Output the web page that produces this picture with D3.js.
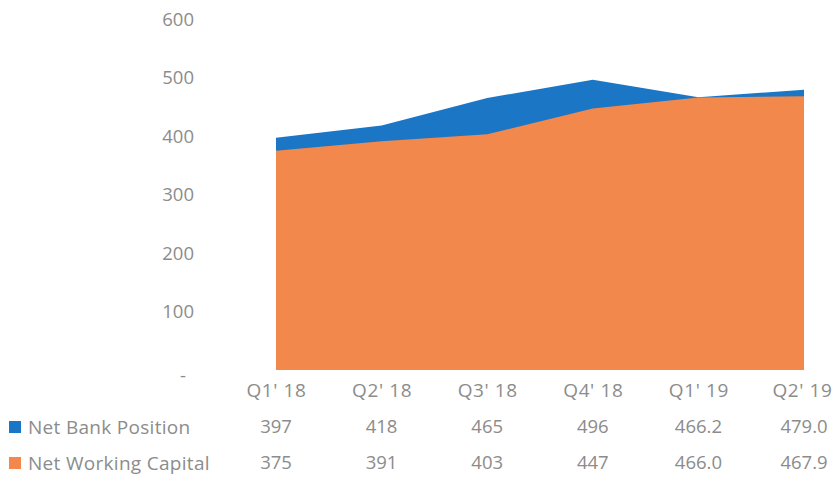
<!DOCTYPE html>
<html><head><meta charset="utf-8">
<script src="https://cdn.jsdelivr.net/npm/d3@7"></script>
<style>body{margin:0;background:#fff}svg{display:block}text{font-family:"Open Sans",sans-serif;fill:#8c8c8c}</style>
</head><body><svg id="c" width="837" height="480"></svg>
<script>
const categories = ["Q1' 18","Q2' 18","Q3' 18","Q4' 18","Q1' 19","Q2' 19"];
const netBank = [397,418,465,496,466.2,479.0];
const netBankLabels = ["397","418","465","496","466.2","479.0"];
const netWC = [375,391,403,447,466.0,467.9];
const netWCLabels = ["375","391","403","447","466.0","467.9"];
const yTicks = [0,100,200,300,400,500,600];
const seriesNames = ["Net Bank Position","Net Working Capital"];
const colors = ["#1c76c6","#f2884b"];

const svg = d3.select("#c");
const x = d3.scalePoint().domain(categories).range([276,804]);
const y = d3.scaleLinear().domain([0,600]).range([370,19]);

const area = vals => d3.area().x((d,i)=>x(categories[i])).y0(y(0)).y1(d=>y(d))(vals);
svg.append("path").attr("d",area(netBank)).attr("fill",colors[0]);
svg.append("path").attr("d",area(netWC)).attr("fill",colors[1]);

const yAxis = d3.axisLeft(y).tickValues(yTicks).tickSize(0).tickPadding(0)
  .tickFormat(d=>d===0?"-":d);
const ga = svg.append("g").attr("transform","translate(194,0)").call(yAxis);
ga.select(".domain").remove();
ga.selectAll("text").attr("font-size",18.5).attr("fill","#8c8c8c").attr("font-family","Open Sans").attr("dy","0.35em");
ga.selectAll(".tick").filter(d=>d===0).select("text").attr("dx",-8).attr("dy","0.6em");

const xAxis = d3.axisBottom(x).tickSize(0).tickPadding(0);
const gx = svg.append("g").attr("transform","translate(0,390)").call(xAxis);
gx.select(".domain").remove();
gx.selectAll("text").attr("font-size",19).attr("fill","#8c8c8c").attr("font-family","Open Sans").attr("dy","0.35em").attr("letter-spacing",0.6);
gx.selectAll(".tick").filter(d=>d==="Q2' 19").select("text").attr("dx",-2);

const rows = [{vals:netBankLabels,yy:427},{vals:netWCLabels,yy:463}];
rows.forEach((r,ri)=>{
  svg.append("rect").attr("x",9).attr("y",r.yy-6).attr("width",12).attr("height",12).attr("fill",colors[ri]);
  svg.append("text").attr("x",28).attr("y",r.yy).attr("dy","0.35em").attr("font-size",19).attr("letter-spacing",0.3).text(seriesNames[ri]);
  svg.selectAll(null).data(r.vals).enter().append("text")
    .attr("x",(d,i)=>x(categories[i])).attr("y",r.yy).attr("dy","0.35em")
    .attr("text-anchor","middle").attr("font-size",18.5).text(d=>d);
});
</script></body></html>
